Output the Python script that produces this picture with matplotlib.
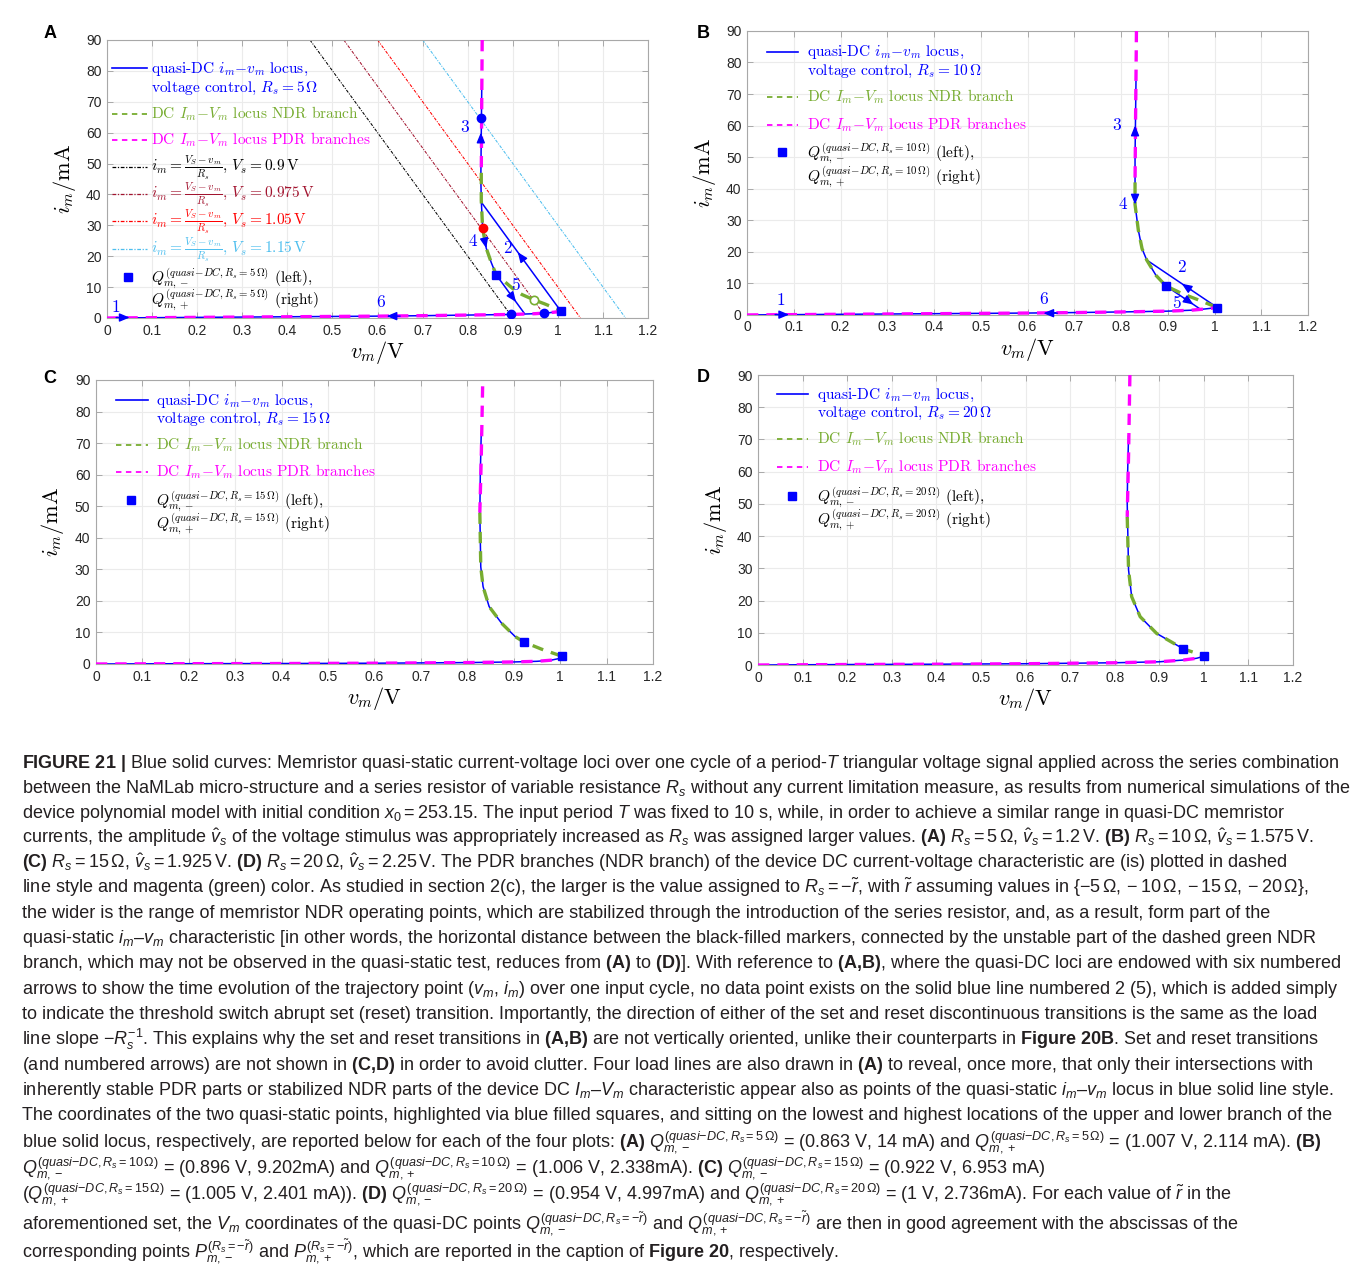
import numpy as np
import matplotlib
matplotlib.use('Agg')
import matplotlib.pyplot as plt
from matplotlib.font_manager import FontProperties

plt.rcParams['font.family'] = ['Liberation Sans', 'DejaVu Sans']
plt.rcParams['mathtext.fontset'] = 'cm'
plt.rcParams['mathtext.rm'] = 'Liberation Sans'
plt.rcParams['mathtext.it'] = 'Liberation Sans:italic'
plt.rcParams['mathtext.bf'] = 'Liberation Sans:bold'

BLUE = '#0000ff'
GREEN = '#77ac30'
MAGENTA = '#ff00ff'
LOAD_COLORS = ['black', '#a2142f', '#ff0000', '#4dbeee']

x_ticks = [0, 0.1, 0.2, 0.3, 0.4, 0.5, 0.6, 0.7, 0.8, 0.9, 1.0, 1.1, 1.2]
x_tick_labels = ['0', '0.1', '0.2', '0.3', '0.4', '0.5', '0.6', '0.7', '0.8', '0.9', '1', '1.1', '1.2']
y_ticks = [0, 10, 20, 30, 40, 50, 60, 70, 80, 90]

# ---- panel A, Rs = 5 ohm ----
rs_a = 5
vs_load = [0.9, 0.975, 1.05, 1.15]
a_low_v = [0, 0.1, 0.2, 0.3, 0.4, 0.5, 0.6, 0.7, 0.8, 0.9, 0.95, 0.98, 1.007]
a_low_i = [0, 0.1, 0.2, 0.3, 0.4, 0.5, 0.6, 0.75, 0.95, 1.15, 1.4, 1.7, 2.114]
a_set_v = [1.007, 0.830]
a_set_i = [2.114, 37.5]
a_up_v = [0.831, 0.830, 0.829, 0.830, 0.833, 0.841, 0.852, 0.863]
a_up_i = [74, 60, 45, 38, 29.0, 22.6, 18, 14]
a_reset_v = [0.863, 0.925]
a_reset_i = [14, 1.6]
a_ndr_v = [0.830, 0.830, 0.833, 0.841, 0.852, 0.863, 0.88, 0.90, 0.92, 0.948, 0.97, 0.99, 1.007]
a_ndr_i = [47, 38, 29, 22.6, 18, 14, 12, 9.5, 7.6, 5.8, 4.6, 3.4, 2.114]
a_pdr_v = [0.832, 0.831, 0.830]
a_pdr_i = [90, 70, 47]
a_q_v = [0.863, 1.007]
a_q_i = [14, 2.114]
a_dot_v = [0.829, 0.896, 0.970]
a_dot_i = [64.8, 1.2, 1.5]
a_red_v, a_red_i = [0.833], [29.0]
a_open_v, a_open_i = [0.948], [5.8]

# ---- panel B, Rs = 10 ohm ----
b_low_v = [0, 0.1, 0.2, 0.3, 0.4, 0.5, 0.6, 0.7, 0.8, 0.9, 0.95, 0.98, 1.006]
b_low_i = [0, 0.1, 0.2, 0.3, 0.4, 0.5, 0.6, 0.75, 0.95, 1.2, 1.5, 1.9, 2.338]
b_set_v = [1.006, 0.855]
b_set_i = [2.338, 17.4]
b_up_v = [0.832, 0.830, 0.830, 0.837, 0.845, 0.855, 0.875, 0.896]
b_up_i = [74, 50, 35, 26.9, 21, 17.4, 12.5, 9.202]
b_reset_v = [0.896, 0.970]
b_reset_i = [9.202, 1.8]
b_ndr_v = [0.830, 0.830, 0.837, 0.845, 0.855, 0.875, 0.896, 0.93, 0.965, 1.006]
b_ndr_i = [42, 35, 26.9, 21, 17.4, 12.5, 9.202, 6.8, 4.8, 2.338]
b_pdr_v = [0.833, 0.831, 0.830]
b_pdr_i = [90, 60, 42]
b_q_v = [0.896, 1.006]
b_q_i = [9.202, 2.338]

# ---- panel C, Rs = 15 ohm ----
c_low_v = [0, 0.2, 0.4, 0.6, 0.8, 0.9, 0.95, 0.98, 1.0, 1.005]
c_low_i = [0, 0.1, 0.15, 0.25, 0.45, 0.65, 0.85, 1.2, 1.8, 2.401]
c_up_v = [0.830, 0.828, 0.827, 0.829, 0.834, 0.847, 0.874, 0.903, 0.922]
c_up_i = [73, 60, 47.8, 30.8, 24.5, 18.2, 12.9, 8.7, 6.953]
c_ndr_v = [0.827, 0.829, 0.834, 0.847, 0.874, 0.903, 0.922, 0.96, 1.005]
c_ndr_i = [48, 30.8, 24.5, 18.2, 12.9, 8.7, 6.953, 4.7, 2.401]
c_pdr_v = [0.833, 0.830, 0.827]
c_pdr_i = [88, 65, 48]
c_q_v = [0.922, 1.005]
c_q_i = [6.953, 2.401]

# ---- panel D, Rs = 20 ohm ----
d_low_v = [0, 0.2, 0.4, 0.6, 0.8, 0.9, 0.954, 0.984, 1.0]
d_low_i = [0, 0.15, 0.25, 0.4, 0.7, 1.0, 1.55, 2.1, 2.736]
d_up_v = [0.831, 0.829, 0.828, 0.831, 0.838, 0.857, 0.894, 0.954]
d_up_i = [71, 60, 50.2, 29.5, 21.2, 15.0, 9.8, 4.997]
d_ndr_v = [0.828, 0.831, 0.838, 0.857, 0.894, 0.954, 0.98, 1.0]
d_ndr_i = [46, 29.5, 21.2, 15.0, 9.8, 4.997, 3.8, 2.736]
d_pdr_v = [0.834, 0.831, 0.828]
d_pdr_i = [90, 65, 46]
d_q_v = [0.954, 1.0]
d_q_i = [4.997, 2.736]

# numbered arrows: label pos, head pos, direction
a_arrows = [('1', (0.020, 3.6), (0.05, 0.15), (0.03, 0)),
            ('2', (0.887, 22.6), (0.911, 21.3), (-0.01, 2)),
            ('3', (0.794, 61.7), (0.829, 60), (0, 2)),
            ('4', (0.811, 24.7), (0.841, 22.6), (0.003, -2)),
            ('5', (0.906, 10.6), (0.907, 5.2), (0.01, -2)),
            ('6', (0.606, 5.2), (0.62, 0.6), (-0.03, 0))]
b_arrows = [('1', (0.073, 4.75), (0.09, 0.1), (0.03, 0)),
            ('2', (0.930, 15.1), (0.93, 9.9), (-0.02, 2)),
            ('3', (0.791, 60.2), (0.830, 60), (0, 2)),
            ('4', (0.805, 34.9), (0.830, 35), (0, -2)),
            ('5', (0.919, 3.7), (0.955, 3.3), (0.02, -2)),
            ('6', (0.634, 4.8), (0.634, 0.55), (-0.03, 0))]

W, H = 1357.0, 1273.0
fig = plt.figure(figsize=(13.57, 12.73), dpi=100)

legend_font = FontProperties(family='cmr10', size=11.1, math_fontfamily='cm')
dash = (0, (3.4, 2.4))
load_style = (0, (3, 1.3, 1, 1.3))


def base_axes(rect, letter, lx, ly):
    ax = fig.add_axes(rect)
    ax.set_xlim(0, 1.2)
    ax.set_ylim(0, 90)
    ax.set_xticks(x_ticks)
    ax.set_xticklabels(x_tick_labels)
    ax.set_yticks(y_ticks)
    ax.grid(True, color='#ebebeb', lw=0.8)
    ax.set_axisbelow(True)
    for s in ax.spines.values():
        s.set_color('#a8a8a8')
        s.set_linewidth(0.8)
    ax.tick_params(direction='in', length=4, width=0.7, color='#a8a8a8',
                   top=True, right=True, labelsize=10, labelcolor='#262626', pad=4)
    ax.set_xlabel(r'$v_m/\mathrm{V}$', fontsize=16, labelpad=1)
    ax.set_ylabel(r'$i_m/\mathrm{mA}$', fontsize=16, labelpad=6)
    fig.text(lx, ly, letter, weight='bold', fontsize=13, ha='center', va='center')
    return ax


def draw_locus(ax, low_v, low_i, up_v, up_i, ndr_v, ndr_i, pdr_v, pdr_i, q_v, q_i):
    ax.plot(low_v, low_i, color=BLUE, lw=1.1, zorder=3)
    ax.plot(up_v, up_i, color=BLUE, lw=1.1, zorder=3)
    ax.plot(ndr_v, ndr_i, color=GREEN, lw=2.4, ls=dash, zorder=4)
    ax.plot(pdr_v, pdr_i, color=MAGENTA, lw=2.4, ls=dash, zorder=4)
    ax.plot(low_v, low_i, color=MAGENTA, lw=2.4, ls=dash, zorder=4)
    ax.plot(q_v, q_i, 's', color=BLUE, ms=5.5, zorder=6)


def draw_arrows(ax, arrows):
    for num, (tx, ty), (hx, hy), (dx, dy) in arrows:
        ax.annotate('', xy=(hx, hy), xytext=(hx - dx, hy - dy),
                    arrowprops=dict(arrowstyle='-|>,head_length=0.6,head_width=0.25',
                                    color=BLUE, lw=1.0, shrinkA=0, shrinkB=0), zorder=7)
        ax.text(tx, ty, num, color=BLUE, fontsize=12.5, family='cmr10',
                ha='center', va='center', zorder=7)


def manual_legend(ax, rect, hx, tx, mx, rows):
    # rows: (handle kind, color, style, handle y, [(text, y, color)])
    aw, ah = rect[2] * W, rect[3] * H
    fx = lambda px: px / aw
    fy = lambda py: 1 - py / ah
    for kind, col, style, hy, lines in rows:
        if kind == 'line':
            ax.plot([fx(hx[0]), fx(hx[1])], [fy(hy), fy(hy)], color=col, lw=style[0],
                    ls=style[1], transform=ax.transAxes, clip_on=False, zorder=8)
        else:
            ax.plot([fx(mx)], [fy(hy)], 's', color=col, ms=5.5,
                    transform=ax.transAxes, clip_on=False, zorder=8)
        for txt, ty, tc in lines:
            ax.text(fx(tx), fy(ty + 4.5), txt, color=tc, fontproperties=legend_font,
                    transform=ax.transAxes, ha='left', va='baseline', zorder=8)


def std_rows(rs, ys):
    q_sup = r'(quasi{-}DC,R_s{=}%d\,\Omega)' % rs
    rows = [('line', BLUE, (1.2, '-'), ys[0],
             [(r'quasi-DC $i_m{-}v_m$ locus,', ys[0], BLUE),
              (r'voltage control, $R_s = %d\,\Omega$' % rs, ys[1], BLUE)]),
            ('line', GREEN, (1.3, (0, (3, 2.5))), ys[2],
             [(r'DC $I_m{-}V_m$ locus NDR branch', ys[2], GREEN)]),
            ('line', MAGENTA, (1.3, (0, (3, 2.5))), ys[3],
             [(r'DC $I_m{-}V_m$ locus PDR branches', ys[3], MAGENTA)])]
    q_row = ('marker', BLUE, None, ys[-2],
             [(r'$Q_{m,-}^{%s}$ (left),' % q_sup, ys[-2], 'black'),
              (r'$Q_{m,+}^{%s}$ (right)' % q_sup, ys[-1], 'black')])
    return rows, q_row


# ---- A ----
rectA = [0.0789, 0.7502, 0.3987, 0.2184]
axA = base_axes(rectA, 'A', 0.0368, 0.974)
for vs, c in zip(vs_load, LOAD_COLORS):
    axA.axline((vs, 0), slope=-1000.0 / rs_a, color=c, lw=0.75, ls=load_style, zorder=2)
axA.plot(a_set_v, a_set_i, color=BLUE, lw=1.1, zorder=3)
axA.plot(a_reset_v, a_reset_i, color=BLUE, lw=1.1, zorder=3)
draw_locus(axA, a_low_v, a_low_i, a_up_v, a_up_i, a_ndr_v, a_ndr_i, a_pdr_v, a_pdr_i, a_q_v, a_q_i)
axA.plot(a_dot_v, a_dot_i, 'o', color=BLUE, ms=6, zorder=6)
axA.plot(a_red_v, a_red_i, 'o', color='#ff0000', ms=6, zorder=6)
axA.plot(a_open_v, a_open_i, 'o', mfc='white', mec=GREEN, mew=1.2, ms=6, zorder=6)
draw_arrows(axA, a_arrows)
rowsA, qA = std_rows(5, [28, 47, 74, 100, 237, 260])
load_y = [127, 154, 181, 209]
for vs, c, y in zip(vs_load, LOAD_COLORS, load_y):
    lbl = r'$i_m = \frac{V_S-v_m}{R_s}$, $V_s = %g\,\mathrm{V}$' % vs
    rowsA.append(('line', c, (0.9, load_style), y, [(lbl, y, c)]))
manual_legend(axA, rectA, (5, 40), 44, 21, rowsA + [qA])

# ---- B ----
rectB = [0.5505, 0.7526, 0.4134, 0.2231]
axB = base_axes(rectB, 'B', 0.518, 0.974)
axB.plot(b_set_v, b_set_i, color=BLUE, lw=1.1, zorder=3)
axB.plot(b_reset_v, b_reset_i, color=BLUE, lw=1.1, zorder=3)
draw_locus(axB, b_low_v, b_low_i, b_up_v, b_up_i, b_ndr_v, b_ndr_i, b_pdr_v, b_pdr_i, b_q_v, b_q_i)
draw_arrows(axB, b_arrows)
rowsB, qB = std_rows(10, [21, 40, 66, 94, 121, 146])
manual_legend(axB, rectB, (20, 51), 60, 35, rowsB + [qB])

# ---- C ----
rectC = [0.0707, 0.4784, 0.4105, 0.2231]
axC = base_axes(rectC, 'C', 0.0368, 0.703)
draw_locus(axC, c_low_v, c_low_i, c_up_v, c_up_i, c_ndr_v, c_ndr_i, c_pdr_v, c_pdr_i, c_q_v, c_q_i)
rowsC, qC = std_rows(15, [20, 38, 65, 92, 120, 144])
manual_legend(axC, rectC, (20, 52), 60, 35, rowsC + [qC])

# ---- D ----
rectD = [0.5586, 0.4776, 0.3943, 0.2278]
axD = base_axes(rectD, 'D', 0.518, 0.7038)
draw_locus(axD, d_low_v, d_low_i, d_up_v, d_up_i, d_ndr_v, d_ndr_i, d_pdr_v, d_pdr_i, d_q_v, d_q_i)
rowsD, qD = std_rows(20, [19, 37, 64, 92, 121, 145])
manual_legend(axD, rectD, (19, 50), 59, 34, rowsD + [qD])

# ---- caption ----
caption = [
    r"$\mathbf{FIGURE\ 21\ |}$ Blue solid curves: Memristor quasi-static current-voltage loci over one cycle of a period-$T$ triangular voltage signal applied across the series combination",
    r"between the NaMLab micro-structure and a series resistor of variable resistance $R_s$ without any current limitation measure, as results from numerical simulations of the",
    r"device polynomial model with initial condition $x_0 = 253.15$. The input period $T$ was fixed to 10 s, while, in order to achieve a similar range in quasi-DC memristor",
    r"currents, the amplitude $\hat{v}_s$ of the voltage stimulus was appropriately increased as $R_s$ was assigned larger values. $\mathbf{(A)}$ $R_s = 5\,\Omega$, $\hat{v}_s = 1.2\,$V. $\mathbf{(B)}$ $R_s = 10\,\Omega$, $\hat{v}_s = 1.575\,$V.",
    r"$\mathbf{(C)}$ $R_s = 15\,\Omega$, $\hat{v}_s = 1.925\,$V. $\mathbf{(D)}$ $R_s = 20\,\Omega$, $\hat{v}_s = 2.25\,$V. The PDR branches (NDR branch) of the device DC current-voltage characteristic are (is) plotted in dashed",
    r"line style and magenta (green) color. As studied in section 2(c), the larger is the value assigned to $R_s = -\tilde{r}$, with $\tilde{r}$ assuming values in $\{-5\,\Omega, -10\,\Omega, -15\,\Omega, -20\,\Omega\}$,",
    r"the wider is the range of memristor NDR operating points, which are stabilized through the introduction of the series resistor, and, as a result, form part of the",
    r"quasi-static $i_m$–$v_m$ characteristic [in other words, the horizontal distance between the black-filled markers, connected by the unstable part of the dashed green NDR",
    r"branch, which may not be observed in the quasi-static test, reduces from $\mathbf{(A)}$ to $\mathbf{(D)}$]. With reference to $\mathbf{(A{,}B)}$, where the quasi-DC loci are endowed with six numbered",
    r"arrows to show the time evolution of the trajectory point ($v_m$, $i_m$) over one input cycle, no data point exists on the solid blue line numbered 2 (5), which is added simply",
    r"to indicate the threshold switch abrupt set (reset) transition. Importantly, the direction of either of the set and reset discontinuous transitions is the same as the load",
    r"line slope $-R_s^{-1}$. This explains why the set and reset transitions in $\mathbf{(A{,}B)}$ are not vertically oriented, unlike their counterparts in $\mathbf{Figure\ 20B}$. Set and reset transitions",
    r"(and numbered arrows) are not shown in $\mathbf{(C{,}D)}$ in order to avoid clutter. Four load lines are also drawn in $\mathbf{(A)}$ to reveal, once more, that only their intersections with",
    r"inherently stable PDR parts or stabilized NDR parts of the device DC $I_m$–$V_m$ characteristic appear also as points of the quasi-static $i_m$–$v_m$ locus in blue solid line style.",
    r"The coordinates of the two quasi-static points, highlighted via blue filled squares, and sitting on the lowest and highest locations of the upper and lower branch of the",
    r"blue solid locus, respectively, are reported below for each of the four plots: $\mathbf{(A)}$ $Q_{m,-}^{(quasi{-}DC,R_s{=}5\,\Omega)}$ = (0.863 V, 14 mA) and $Q_{m,+}^{(quasi{-}DC,R_s{=}5\,\Omega)}$ = (1.007 V, 2.114 mA). $\mathbf{(B)}$",
    r"$Q_{m,-}^{(quasi{-}DC,R_s{=}10\,\Omega)}$ = (0.896 V, 9.202mA) and $Q_{m,+}^{(quasi{-}DC,R_s{=}10\,\Omega)}$ = (1.006 V, 2.338mA). $\mathbf{(C)}$ $Q_{m,-}^{(quasi{-}DC,R_s{=}15\,\Omega)}$ = (0.922 V, 6.953 mA)",
    r"($Q_{m,+}^{(quasi{-}DC,R_s{=}15\,\Omega)}$ = (1.005 V, 2.401 mA)). $\mathbf{(D)}$ $Q_{m,-}^{(quasi{-}DC,R_s{=}20\,\Omega)}$ = (0.954 V, 4.997mA) and $Q_{m,+}^{(quasi{-}DC,R_s{=}20\,\Omega)}$ = (1 V, 2.736mA). For each value of $\tilde{r}$ in the",
    r"aforementioned set, the $V_m$ coordinates of the quasi-DC points $Q_{m,-}^{(quasi{-}DC,R_s{=}{-}\tilde{r})}$ and $Q_{m,+}^{(quasi{-}DC,R_s{=}{-}\tilde{r})}$ are then in good agreement with the abscissas of the",
    r"corresponding points $P_{m,-}^{(R_s{=}{-}\tilde{r})}$ and $P_{m,+}^{(R_s{=}{-}\tilde{r})}$, which are reported in the caption of $\mathbf{Figure\ 20}$, respectively.",
]
baselines = [768, 793, 818, 843, 868, 893, 918, 943, 968, 994, 1019, 1045, 1070, 1095,
             1120, 1147, 1173, 1200, 1230, 1258]

cap_size = 12.0
cap_texts = []
for line, b in zip(caption, baselines):
    t = fig.text(22 / W, 1 - b / H, line, fontsize=cap_size, color='#231f20',
                 family='Liberation Sans', math_fontfamily='custom', va='baseline', ha='left')
    cap_texts.append(t)

fig.canvas.draw()
r = fig.canvas.get_renderer()
w_max = max(t.get_window_extent(r).width for t in cap_texts)
scale = 1322.0 / w_max
for t in cap_texts:
    t.set_fontsize(cap_size * scale)

fig.savefig('out.png', dpi=100)
